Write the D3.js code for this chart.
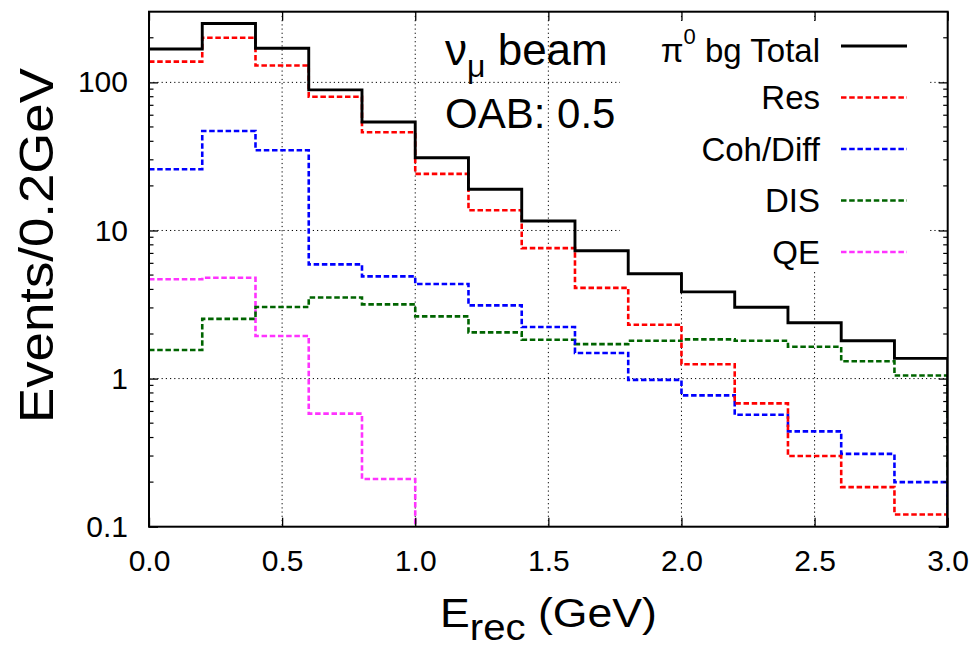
<!DOCTYPE html>
<html>
<head>
<meta charset="utf-8">
<script src="https://cdn.jsdelivr.net/npm/d3@7/dist/d3.min.js"></script>
<style>
  body { margin: 0; background: #fff; }
  svg text { font-family: "Liberation Sans", Arial, Helvetica, sans-serif; fill: #000; }
</style>
</head>
<body>
<svg id="chart" width="976" height="649"></svg>
<script>
// Reconstructed-energy bins (lower edges, GeV) and bin width
const binStarts = [0.0, 0.2, 0.4, 0.6, 0.8, 1.0, 1.2, 1.4, 1.6, 1.8, 2.0, 2.2, 2.4, 2.6, 2.8];
const binWidth = 0.2;

// Events per 0.2 GeV for each pi0 background component
const totalBg = [168, 250, 170, 89, 54, 31, 19, 11.6, 7.3, 5.1, 3.85, 3.03, 2.38, 1.80, 1.37];
const resBg   = [138, 200, 130, 80, 46, 24.1, 13.7, 7.6, 4.1, 2.31, 1.25, 0.68, 0.30, 0.185, 0.121];
const cohBg   = [25.9, 46.9, 34.8, 5.9, 4.9, 4.35, 3.12, 2.23, 1.49, 0.98, 0.77, 0.57, 0.44, 0.31, 0.20];
const disBg   = [1.56, 2.53, 3.04, 3.53, 3.17, 2.63, 2.05, 1.83, 1.71, 1.80, 1.84, 1.80, 1.64, 1.31, 1.05];
const qeBg    = [4.68, 4.79, 1.94, 0.58, 0.21];   // empty beyond 1.0 GeV

const seriesNames = ["Total", "Res", "Coh/Diff", "DIS", "QE"];
const xTickValues = [0, 0.5, 1.0, 1.5, 2.0, 2.5, 3.0];
const xTickLabels = ["0.0", "0.5", "1.0", "1.5", "2.0", "2.5", "3.0"];
const yTickValues = [0.1, 1, 10, 100];
const yTickLabels = ["0.1", "1", "10", "100"];

const svg = d3.select("#chart");
const plot = { left: 149, right: 947.7, top: 11.7, bottom: 526.7 };

const x = d3.scaleLinear().domain([0, 3]).range([plot.left, plot.right]);
const y = d3.scaleLog().domain([0.1, 300]).range([plot.bottom, plot.top]);

const dash = "5.5,2.7";
const series = [
  { values: totalBg, color: "#000000", width: 2.9, dash: null },
  { values: resBg,   color: "#ff0000", width: 2.6, dash: dash },
  { values: cohBg,   color: "#0000ff", width: 2.6, dash: dash },
  { values: disBg,   color: "#006400", width: 2.6, dash: dash },
  { values: qeBg,    color: "#ff33ff", width: 2.6, dash: dash }
];

svg.append("defs").append("clipPath").attr("id", "plotClip")
  .append("rect")
  .attr("x", plot.left).attr("y", plot.top)
  .attr("width", plot.right - plot.left).attr("height", plot.bottom - plot.top);

// dotted grid at the major ticks
const grid = svg.append("g").attr("stroke", "#000").attr("stroke-width", 1)
  .attr("stroke-dasharray", "1.2,3");
grid.selectAll("line.gx").data(xTickValues.slice(1, -1)).join("line")
  .attr("x1", d => x(d)).attr("x2", d => x(d))
  .attr("y1", plot.top).attr("y2", plot.bottom);
grid.selectAll("line.gy").data(yTickValues.slice(1)).join("line")
  .attr("x1", plot.left).attr("x2", plot.right)
  .attr("y1", d => y(d)).attr("y2", d => y(d));

// opaque key area
const key = { x0: 620, x1: 928, y0: 21, y1: 272 };
svg.append("rect")
  .attr("x", key.x0).attr("y", key.y0)
  .attr("width", key.x1 - key.x0).attr("height", key.y1 - key.y0)
  .attr("fill", "#fff");

// histogram steps
const stepLine = d3.line().x(d => x(d[0])).y(d => y(d[1]));
function stepPoints(values) {
  const pts = [];
  values.forEach((v, i) => {
    pts.push([binStarts[i], v]);
    pts.push([binStarts[i] + binWidth, v]);
  });
  const end = binStarts[values.length - 1] + binWidth;
  pts.push([end, y.domain()[0]]);
  return pts;
}
const hist = svg.append("g").attr("clip-path", "url(#plotClip)");
series.slice().reverse().forEach(s => {
  hist.append("path")
    .attr("d", stepLine(stepPoints(s.values)))
    .attr("fill", "none")
    .attr("stroke", s.color)
    .attr("stroke-width", s.width)
    .attr("stroke-dasharray", s.dash)
    .attr("stroke-linejoin", "miter");
});

// axes: inward ticks, labels on left and bottom only
const fontTick = 30;
const xAxis = d3.axisBottom(x).tickValues(xTickValues)
  .tickFormat((d, i) => xTickLabels[i]).tickSize(-9).tickSizeOuter(0).tickPadding(22.6);
const yAxis = d3.axisLeft(y).tickValues(yTickValues)
  .tickFormat((d, i) => yTickLabels[i]).tickSize(-9).tickSizeOuter(0).tickPadding(21);

function styleAxis(g) {
  g.select(".domain").remove();
  g.selectAll(".tick line").attr("stroke", "#000").attr("stroke-width", 1.3);
  g.selectAll(".tick text").attr("font-size", fontTick)
    .style("font-family", "'Liberation Sans', Arial, Helvetica, sans-serif");
}
svg.append("g").attr("transform", `translate(0,${plot.bottom})`).call(xAxis).call(styleAxis);
svg.append("g").attr("transform", `translate(${plot.left},0)`).call(yAxis).call(styleAxis);
svg.append("g").attr("transform", `translate(0,${plot.top})`)
  .call(d3.axisTop(x).tickValues(xTickValues).tickSize(-9).tickSizeOuter(0).tickFormat(""))
  .call(styleAxis);
svg.append("g").attr("transform", `translate(${plot.right},0)`)
  .call(d3.axisRight(y).tickValues(yTickValues).tickSize(-9).tickSizeOuter(0).tickFormat(""))
  .call(styleAxis);

// minor log ticks (2..9 per decade)
const minor = [];
for (let e = -1; e <= 2; e++) for (let m = 2; m <= 9; m++) {
  const v = m * Math.pow(10, e);
  if (v < 300) minor.push(v);
}
const minorG = svg.append("g").attr("stroke", "#000").attr("stroke-width", 1.2);
minor.forEach(v => {
  minorG.append("line").attr("x1", plot.left).attr("x2", plot.left + 4.5)
    .attr("y1", y(v)).attr("y2", y(v));
  minorG.append("line").attr("x1", plot.right).attr("x2", plot.right - 4.5)
    .attr("y1", y(v)).attr("y2", y(v));
});

// frame
svg.append("rect")
  .attr("x", plot.left).attr("y", plot.top)
  .attr("width", plot.right - plot.left).attr("height", plot.bottom - plot.top)
  .attr("fill", "none").attr("stroke", "#000").attr("stroke-width", 2);

// stretch a text run along its baseline so it spans the given length
function fitLength(sel, length) {
  const w = sel.node().getComputedTextLength();
  const k = length / w;
  const base = sel.attr("transform") || "";
  sel.attr("transform", base + ` scale(${k},1)`);
}

// axis titles
const xTitle = svg.append("text").attr("transform", "translate(440,627)").attr("font-size", 40);
xTitle.append("tspan").text("E");
xTitle.append("tspan").attr("dy", 13).attr("font-size", 36).text("rec");
xTitle.append("tspan").attr("dy", -13).text(" (GeV)");
fitLength(xTitle, 217);

const yTitle = svg.append("text")
  .attr("transform", "translate(53,423) rotate(-90)")
  .attr("font-size", 49)
  .text("Events/0.2GeV");
fitLength(yTitle, 355);

// beam annotations
const beam = svg.append("text").attr("x", 445).attr("y", 65).attr("font-size", 44);
beam.append("tspan").text("ν");
beam.append("tspan").attr("dy", 12).attr("font-size", 32).text("μ");
beam.append("tspan").attr("dy", -12).text(" beam");

svg.append("text").attr("x", 445).attr("y", 128).attr("font-size", 42).text("OAB: 0.5");

// key entries
const keyRow = i => 46 + i * 51.5;
series.forEach((s, i) => {
  svg.append("line")
    .attr("x1", 841).attr("x2", 907)
    .attr("y1", keyRow(i)).attr("y2", keyRow(i))
    .attr("stroke", s.color).attr("stroke-width", s.width)
    .attr("stroke-dasharray", s.dash);
  const t = svg.append("text").attr("x", 820).attr("y", keyRow(i) + (i === 0 ? 15.5 : 11.5))
    .attr("text-anchor", "end").attr("font-size", 33);
  if (i === 0) {
    t.append("tspan").text("π");
    t.append("tspan").attr("dy", -18).attr("font-size", 22).text("0");
    t.append("tspan").attr("dy", 18).text(" bg " + seriesNames[0]);
  } else {
    t.text(seriesNames[i]);
  }
});
</script>
</body>
</html>
